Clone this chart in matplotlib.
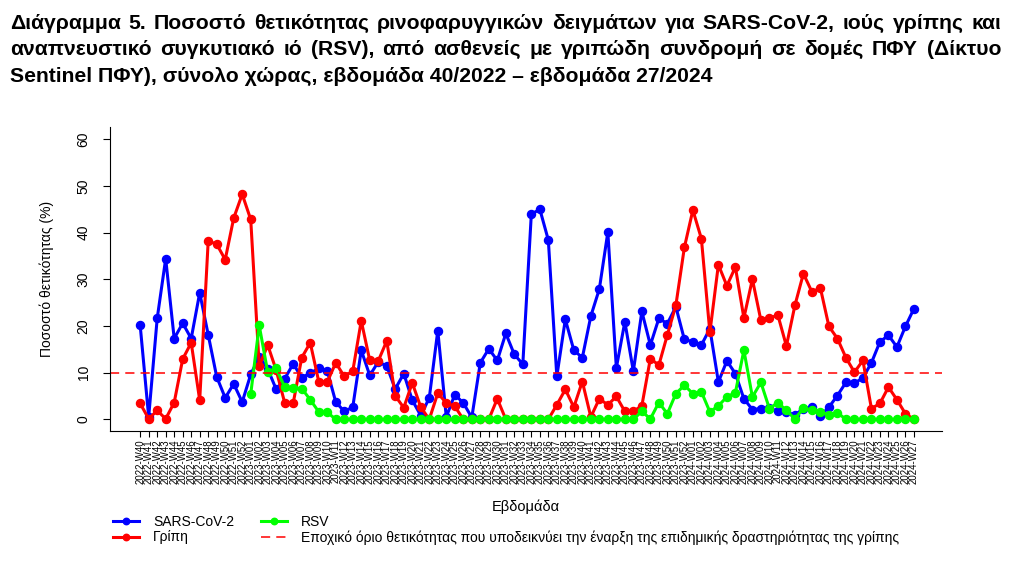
import numpy as np
import matplotlib
matplotlib.use("Agg")
import matplotlib.pyplot as plt

plt.rcParams['font.family'] = ['Liberation Sans', 'DejaVu Sans']

# weeks 2022-W40 .. 2024-W27
weeks = ([f"2022-W{w:02d}" for w in range(40, 53)] +
         [f"2023-W{w:02d}" for w in range(1, 53)] +
         [f"2024-W{w:02d}" for w in range(1, 28)])

sars = [20.1, 0.5, 21.6, 34.4, 17.3, 20.6, 17.3, 27.1, 18.1, 9.1,
        4.6, 7.6, 3.7, 9.6, 13.4, 10.8, 6.4, 8.7, 11.9, 8.9,
        9.9, 10.9, 10.4, 3.7, 1.7, 2.6, 14.8, 9.4, 12.3, 11.4,
        6.5, 9.8, 4.1, 0.8, 4.6, 19.0, 0.5, 5.3, 3.5, 0.4,
        12.1, 15.1, 12.6, 18.4, 13.9, 11.8, 43.9, 45.0, 38.4, 9.2,
        21.4, 14.8, 13.2, 22.1, 27.9, 40.1, 11.0, 20.9, 10.3, 23.1,
        15.9, 21.6, 20.5, 24.1, 17.1, 16.6, 15.9, 19.4, 8.0, 12.5,
        9.8, 4.4, 2.1, 2.3, 2.4, 1.7, 1.6, 0.9, 2.3, 2.6,
        0.8, 2.6, 5.1, 7.9, 7.7, 8.9, 12.1, 16.6, 18.0, 15.5,
        19.9, 23.7]

flu = [3.4, 0.1, 1.9, 0.1, 3.6, 12.9, 16.4, 4.1, 38.2, 37.5,
       34.2, 43.1, 48.2, 42.8, 11.4, 15.9, 10.5, 3.5, 3.5, 13.2,
       16.4, 8.1, 8.0, 12.1, 9.2, 10.3, 21.1, 12.6, 12.5, 16.8,
       5.0, 2.5, 7.8, 2.6, 0.0, 5.6, 3.5, 2.8, 0.0, 0.0,
       0.0, 0.0, 4.4, 0.0, 0.0, 0.0, 0.0, 0.0, 0.0, 3.1,
       6.4, 2.6, 8.1, 0.5, 4.4, 3.1, 4.9, 1.7, 1.7, 2.9,
       13.0, 11.6, 18.1, 24.4, 36.8, 44.8, 38.7, 18.6, 33.1, 28.6,
       32.6, 21.7, 30.0, 21.2, 21.7, 22.3, 15.7, 24.4, 31.2, 27.3,
       28.1, 19.9, 17.3, 13.2, 10.1, 12.6, 2.3, 3.4, 6.9, 4.2,
       1.2, 0.0]

# RSV only reported from 2023-W01
rsv = [np.nan] * 13 + [
       5.4, 20.1, 10.1, 10.9, 6.9, 6.8, 6.6, 4.2, 1.6, 1.5] + [0.0] * 36 + [
       1.7, 0.1, 3.6, 1.2, 5.5, 7.3, 5.5, 5.9, 1.6, 2.9,
       4.8, 5.7, 14.8, 4.8, 7.9, 2.3, 3.6, 1.9, 0.1, 2.4,
       1.9, 1.6, 0.9, 1.4] + [0.0] * 9

threshold = 10

W, H = 1017, 577
fig = plt.figure(figsize=(W / 100, H / 100), dpi=100)
ax = fig.add_axes([110 / W, 1 - 431 / H, 832 / W, 304 / H])

x = np.arange(len(weeks))
lw, ms = 2.2, 5.8
ax.plot(x, sars, '-o', color='#0000FF', lw=lw, ms=ms, label='SARS-CoV-2')
ax.plot(x, flu, '-o', color='#FF0000', lw=lw, ms=ms, label='Γρίπη')
ax.plot(x, rsv, '-o', color='#00FF00', lw=lw, ms=ms, label='RSV')
ax.axhline(threshold, color='#FF0000', lw=1.1, ls=(0, (6, 4)),
           label='Εποχικό όριο θετικότητας που υποδεικνύει την έναρξη της επιδημικής δραστηριότητας της γρίπης')

ax.set_xlim(-3.55, 94.3)
ax.set_ylim(-2.5, 62.6)
ax.spines['top'].set_visible(False)
ax.spines['right'].set_visible(False)

ax.set_yticks(range(0, 61, 10))
ax.set_yticklabels([str(v) for v in range(0, 61, 10)], rotation=90, va='center')
ax.tick_params(axis='y', labelsize=10, length=5, pad=9)
ax.set_xticks(x)
ax.set_xticklabels(weeks, rotation=90, fontsize=6.9)
ax.tick_params(axis='x', length=4.5, pad=1.5)

ax.set_ylabel('Ποσοστό θετικότητας (%)', fontsize=10)
ax.yaxis.set_label_coords(-0.067, 0.5)
fig.text(526 / W, 1 - 507 / H, 'Εβδομάδα', ha='center', va='center', fontsize=10.5)

fig.legend(loc='upper left', bbox_to_anchor=(113 / W, 1 - 515 / H), ncol=2,
           frameon=False, fontsize=10, borderpad=0, borderaxespad=0,
           handlelength=1.9, handletextpad=1.0, columnspacing=1.9,
           labelspacing=0.1, markerscale=0.8)

# title, first two lines justified like the report
title_lines = [
    "Διάγραμμα 5. Ποσοστό θετικότητας ρινοφαρυγγικών δειγμάτων για SARS-CoV-2, ιούς γρίπης και",
    "αναπνευστικό συγκυτιακό ιό (RSV), από ασθενείς με γριπώδη συνδρομή σε δομές ΠΦΥ (Δίκτυο",
    "Sentinel ΠΦΥ), σύνολο χώρας, εβδομάδα 40/2022 – εβδομάδα 27/2024",
]
baselines = [29, 55, 82]
tkw = dict(fontsize=15.2, fontweight='bold', va='baseline', ha='left')
renderer = fig.canvas.get_renderer()
for i, (line, yb) in enumerate(zip(title_lines, baselines)):
    if i == 2:
        fig.text(10 / W, 1 - yb / H, line, **tkw)
        continue
    words = line.split(' ')
    texts = [fig.text(0, 1 - yb / H, w, **tkw) for w in words]
    widths = [t.get_window_extent(renderer).width for t in texts]
    gap = (1001 - 10 - sum(widths)) / (len(words) - 1)
    xp = 10
    for t, wd in zip(texts, widths):
        t.set_x(xp / W)
        xp += wd + gap

fig.savefig('out.png', dpi=100)
